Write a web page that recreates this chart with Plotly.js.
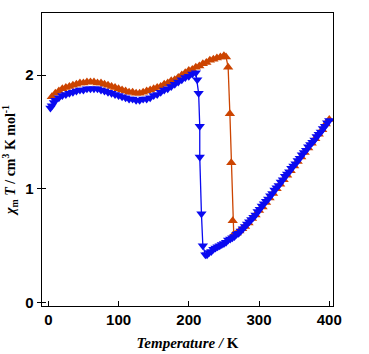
<!DOCTYPE html>
<html>
<head>
<meta charset="utf-8">
<script src="https://cdn.plot.ly/plotly-3.0.1.min.js"></script>
<style>html,body{margin:0;padding:0;background:#fff;}#chart{width:369px;height:354px;}</style>
</head>
<body>
<div id="chart"></div>
<script>
// Heating (orange, triangle-up): temperature (K) and chi_m T (cm3 K mol-1)
const heatT = [5,10,15,20,25,30,35,40,45,50,55,60,65,70,75,80,85,90,95,100,105,110,115,120,125,130,135,140,145,150,155,160,165,170,175,180,185,190,195,200,205,210,215,220,225,230,235,240,245,250,253,256,258.5,260.5,262.5,264,268,272,276,280,285,290,295,300,305,310,315,320,325,330,335,340,345,350,355,360,365,370,375,380,385,390,395,400];
const heatX = [1.81,1.84,1.86,1.88,1.89,1.90,1.91,1.92,1.93,1.93,1.94,1.94,1.94,1.93,1.93,1.92,1.91,1.90,1.89,1.88,1.87,1.86,1.85,1.85,1.84,1.84,1.85,1.86,1.87,1.88,1.89,1.90,1.92,1.93,1.95,1.96,1.98,2.00,2.02,2.04,2.05,2.07,2.08,2.10,2.11,2.13,2.14,2.15,2.16,2.17,2.16,2.07,1.66,1.23,0.72,0.60,0.61,0.63,0.65,0.67,0.70,0.74,0.77,0.81,0.84,0.88,0.92,0.96,1.00,1.04,1.08,1.12,1.16,1.20,1.24,1.28,1.32,1.36,1.40,1.44,1.48,1.52,1.57,1.61];
// Cooling (blue, triangle-down)
const coolT = [400,397,394,391,388,385,382,379,376,373,370,367,364,361,358,355,352,349,346,343,340,337,334,331,328,325,322,319,316,313,310,307,304,301,298,295,292,289,286,283,280,277,274,271,268,265,262,259,256,253,250,247,244,241,238,235,232,229,226,223.6,220,218,215.6,215.6,214,212,210,205,200,195,190,185,180,175,170,165,160,155,150,145,140,135,130,125,120,115,110,105,100,95,90,85,80,75,70,65,60,55,50,45,40,35,30,25,20,15,10,8,5,3];
const coolX = [1.60,1.58,1.55,1.53,1.50,1.48,1.46,1.43,1.41,1.39,1.37,1.34,1.32,1.30,1.27,1.25,1.22,1.20,1.18,1.15,1.13,1.11,1.08,1.06,1.03,1.01,0.99,0.96,0.94,0.91,0.89,0.87,0.85,0.82,0.80,0.77,0.75,0.73,0.71,0.69,0.67,0.65,0.63,0.61,0.60,0.58,0.57,0.56,0.55,0.53,0.52,0.51,0.50,0.49,0.48,0.47,0.45,0.44,0.42,0.42,0.50,0.78,1.28,1.55,1.84,1.96,2.02,2.01,1.99,1.98,1.96,1.94,1.92,1.90,1.88,1.87,1.85,1.83,1.82,1.80,1.79,1.79,1.78,1.78,1.79,1.79,1.80,1.81,1.82,1.83,1.84,1.85,1.86,1.87,1.88,1.88,1.88,1.88,1.87,1.87,1.86,1.85,1.84,1.83,1.82,1.80,1.78,1.76,1.73,1.71];
const xTicks = [0,100,200,300,400];
const yTicks = [0,1,2];

const traces = [
  {x: heatT, y: heatX, type:'scatter', mode:'lines+markers', name:'heating',
   line:{color:'#cc4400', width:1.3},
   marker:{symbol:'triangle-up', size:9, color:'#cc4400'}},
  {x: coolT, y: coolX, type:'scatter', mode:'lines+markers', name:'cooling',
   line:{color:'#0a0af0', width:1.3},
   marker:{symbol:'triangle-down', size:9, color:'#0a0af0'}},
  {x:[null], y:[null], yaxis:'y2', showlegend:false, hoverinfo:'skip'}
];

const tickFont = {family:'"Liberation Sans", Arial, sans-serif', size:15, weight:'bold', color:'#000'};
const yr = [-0.03, 2.546];
const layout = {
  width:369, height:354,
  margin:{l:42, r:36, t:13, b:48, pad:0},
  paper_bgcolor:'#fff', plot_bgcolor:'#fff',
  showlegend:false,
  font:{family:'"Liberation Serif", "Times New Roman", serif', color:'#000'},
  xaxis:{
    range:[-9, 405.3], tickvals:xTicks, ticktext:xTicks.map(String),
    ticks:'inside', ticklen:5, tickwidth:1, tickcolor:'#000',
    showline:true, linecolor:'#000', linewidth:1.3, mirror:true,
    showgrid:false, zeroline:false, tickfont:tickFont,
    title:{text:'<b><i>Temperature /</i> K</b>', font:{family:'"Liberation Serif", "Times New Roman", serif', size:15, color:'#000'}, standoff:10}
  },
  yaxis:{
    range:yr, tickvals:yTicks, ticktext:yTicks.map(String),
    ticks:'outside', ticklen:4, tickwidth:1, tickcolor:'#000',
    showline:true, linecolor:'#000', linewidth:1.3, mirror:true,
    showgrid:false, zeroline:false, tickfont:tickFont,
    title:{text:'<b><i>χ</i><sub>m</sub> <i>T</i> / cm<sup>3</sup> K mol<sup>-1</sup></b>', font:{family:'"Liberation Serif", "Times New Roman", serif', size:14, color:'#000'}}
  },
  yaxis2:{
    range:yr, overlaying:'y', side:'left', tickvals:yTicks,
    ticks:'inside', ticklen:4, tickwidth:1, tickcolor:'#000',
    showticklabels:false, showline:false, showgrid:false, zeroline:false
  }
};
Plotly.newPlot('chart', traces, layout, {staticPlot:true, displayModeBar:false});
</script>
</body>
</html>
